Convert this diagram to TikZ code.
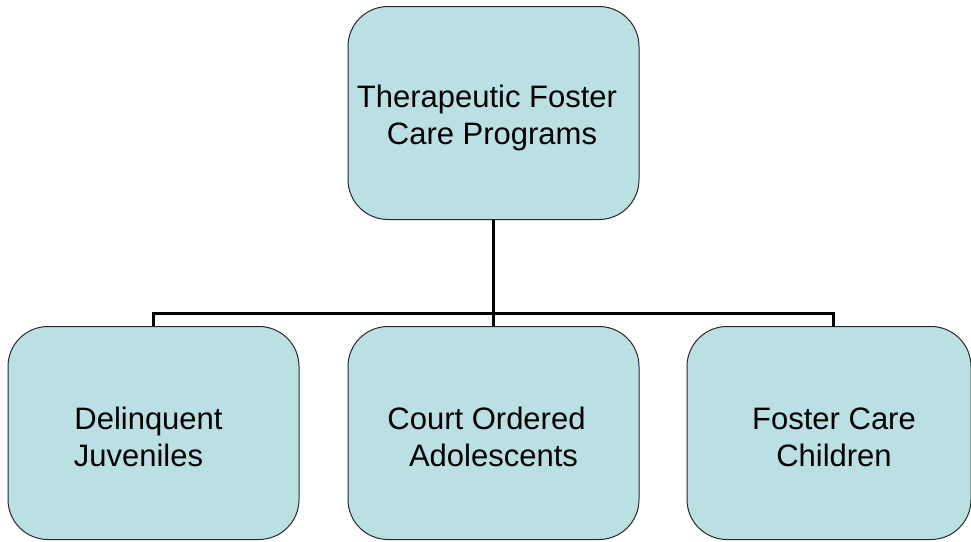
\documentclass[tikz,border=0pt]{standalone}
\usepackage{fontspec}
\setmainfont{Liberation Sans}
\definecolor{boxfill}{RGB}{187,224,227}
\definecolor{boxline}{RGB}{40,40,40}
\begin{document}
\begin{tikzpicture}[x=1pt,y=-1pt,
  orgbox/.style={draw=boxline, line width=1pt, fill=boxfill, rounded corners=40pt,
    minimum width=291pt, minimum height=213pt, inner sep=0pt},
  lbl/.style={inner sep=0pt, align=center, font=\fontsize{31}{37}\selectfont},
  link/.style={line width=3pt, line join=miter}]
\useasboundingbox (0,0) rectangle (971,541);
\node[orgbox] (top) at (493.5,113) {};
\node[orgbox] (l) at (153.5,433) {};
\node[orgbox] (m) at (493.5,433) {};
\node[orgbox, minimum width=284pt] (r) at (829,433) {};
\node[lbl] (topt) at (492,118) {Therapeutic Foster\hspace*{10pt}\\Care Programs};
\node[lbl] (lt) at (153.5,437) {Delinquent\hspace*{10pt}\\Juveniles\hspace*{30pt}};
\node[lbl] (mt) at (493.5,437) {Court Ordered\hspace*{14pt}\\Adolescents};
\node[lbl] (rt) at (834,437) {Foster Care\\Children};
\coordinate (j) at (top.south |- 0,313);
\coordinate (rj) at (833,327);
\draw[link] (top.south) -- (j);
\draw[link] (l.north) |- (j) -| (rj);
\draw[link] (j) -- (m.north);
\end{tikzpicture}
\end{document}
